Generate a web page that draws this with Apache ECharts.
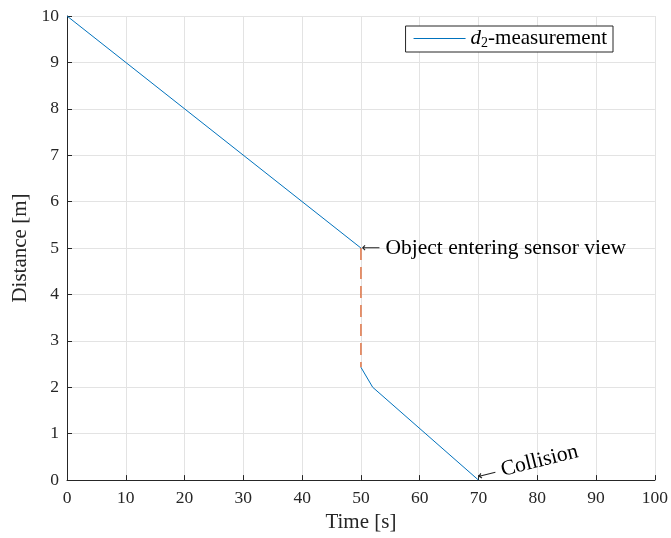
<!DOCTYPE html>
<html><head><meta charset="utf-8">
<script src="https://cdn.jsdelivr.net/npm/echarts@6/dist/echarts.min.js"></script>
<style>html,body{margin:0;padding:0;background:#fff}#c{width:671px;height:538px}</style>
</head><body><div id="c"></div>
<script>
const xTicks = [0,10,20,30,40,50,60,70,80,90,100];
const yTicks = [0,1,2,3,4,5,6,7,8,9,10];
const approachTime = [0, 50];
const approachDist = [10, 5];
const jumpTime = [50, 50];
const jumpDist = [5, 2.43];
const afterTime = [50, 52, 70];
const afterDist = [2.43, 2.0, 0];
const legendName = 'd2-measurement';
const annotations = [
  {x: 50, y: 5, text: 'Object entering sensor view', rotate: 0},
  {x: 70, y: 0, text: 'Collision', rotate: 14}
];
const FONT = 'Liberation Serif';
const zip = (a,b) => a.map((v,i)=>[v,b[i]]);
const chart = echarts.init(document.getElementById('c'), null, {renderer:'canvas'});
const axisCommon = {
  axisLine:{show:true, lineStyle:{color:'#262626', width:1}},
  axisTick:{show:true, inside:true, length:5, lineStyle:{color:'#262626'}},
  splitLine:{show:true, lineStyle:{color:'#e3e3e3', width:1}},
  axisLabel:{color:'#262626', fontFamily:FONT, fontSize:17.5},
  nameTextStyle:{color:'#262626', fontFamily:FONT, fontSize:21},
  nameLocation:'middle'
};
chart.setOption({
  animation:false,
  backgroundColor:'#fff',
  grid:{left:67, right:14, top:16, bottom:57, containLabel:false},
  xAxis:Object.assign({}, axisCommon, {type:'value', min:0, max:100, interval:10, name:'Time [s]', nameGap:30,
    axisLabel:Object.assign({}, axisCommon.axisLabel, {margin:9})}),
  yAxis:Object.assign({}, axisCommon, {type:'value', min:0, max:10, interval:1, name:'Distance [m]', nameGap:31,
    axisLabel:Object.assign({}, axisCommon.axisLabel, {margin:8})}),
  legend:{
    data:[legendName], right:58, top:26, orient:'vertical',
    backgroundColor:'#fff', borderColor:'#262626', borderWidth:1, borderRadius:0,
    padding:[2,6,2,8], itemWidth:52, itemHeight:1, itemGap:0,
    icon:'rect', itemStyle:{color:'#0072BD'},
    formatter:()=>'{i|d}{s|2}{n|-measurement}',
    textStyle:{color:'#000', fontFamily:FONT, fontSize:21,
      rich:{i:{fontStyle:'italic', fontFamily:FONT, fontSize:21},
            s:{fontFamily:FONT, fontSize:14, verticalAlign:'bottom', padding:[9,0,0,0]},
            n:{fontFamily:FONT, fontSize:21}}}
  },
  series:[
    {name:legendName, type:'line', data:zip(approachTime, approachDist), symbol:'none',
     lineStyle:{color:'#0072BD', width:1}, itemStyle:{color:'#0072BD'}},
    {name:'jump', type:'line', data:zip(jumpTime, jumpDist), symbol:'none',
     lineStyle:{color:'#D95319', width:1.2, type:[12,7]}, itemStyle:{color:'#D95319'}},
    {name:legendName, type:'line', data:zip(afterTime, afterDist), symbol:'none',
     lineStyle:{color:'#0072BD', width:1}, itemStyle:{color:'#0072BD'},
     markPoint:{silent:true, symbol:'circle', symbolSize:1, itemStyle:{color:'rgba(0,0,0,0)'},
       data:annotations.map(a=>({coord:[a.x,a.y],
         label:{show:true, formatter:'{a|⟵}{t| ' + a.text + '}', position:'right', distance:0, rotate:a.rotate,
                color:'#000', fontFamily:FONT, fontSize:21.5,
                offset:a.rotate? [0,-4]:[0,0],
                rich:{a:{fontFamily:'DejaVu Sans', fontSize:13, color:'#222', padding:[2,0,0,0]},
                      t:{fontFamily:FONT, fontSize:21.5, color:'#000'}}}}))}}
  ]
});
</script></body></html>
